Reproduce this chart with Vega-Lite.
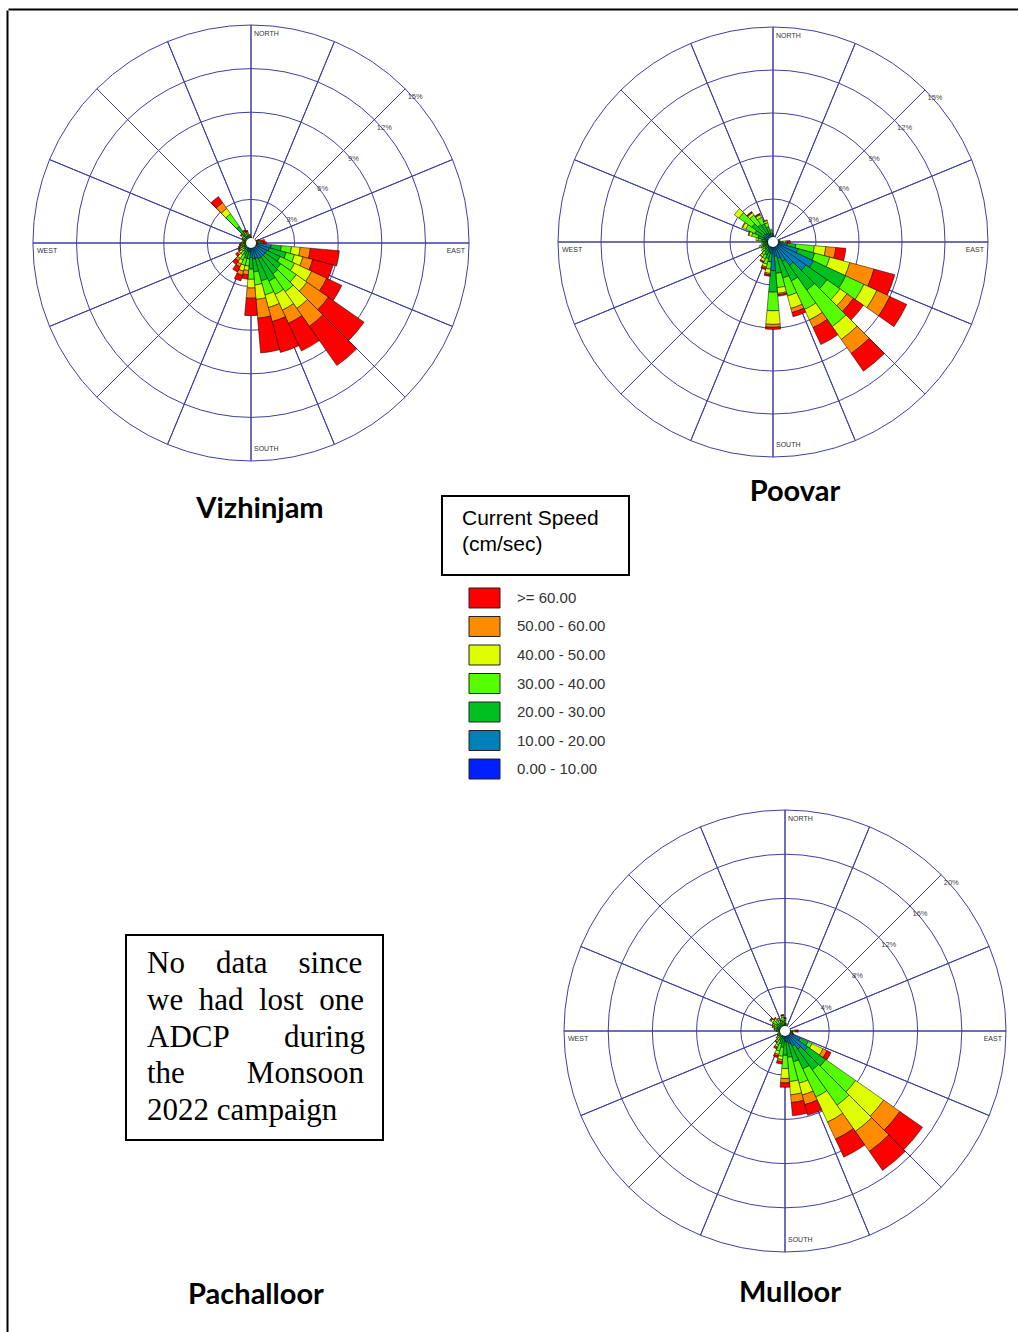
{
"$schema": "https://vega.github.io/schema/vega-lite/v6.json",
"padding": 0,
"background": "white",
"config": {"view": {"stroke": null}, "text": {"font": "Liberation Sans"}},
"datasets": {
"rose": [
{"site":"V","dir":0,"k0":0.1,"k1":0.15,"k2":0.1,"k3":0.05,"k4":0.05},
{"site":"V","dir":10,"k0":0.1,"k1":0.1,"k2":0.1,"k3":0.05},
{"site":"V","dir":20,"k0":0.1,"k1":0.1,"k2":0.05,"k3":0.05},
{"site":"V","dir":30,"k0":0.1,"k1":0.1,"k2":0.05},
{"site":"V","dir":40,"k0":0.1,"k1":0.1,"k2":0.05},
{"site":"V","dir":50,"k0":0.1,"k1":0.1,"k2":0.05,"k3":0.05},
{"site":"V","dir":60,"k0":0.1,"k1":0.1,"k2":0.1,"k3":0.05,"k4":0.05},
{"site":"V","dir":70,"k0":0.1,"k1":0.1,"k2":0.1,"k3":0.1,"k4":0.05,"k5":0.05,"k6":0.1},
{"site":"V","dir":80,"k0":0.1,"k1":0.15,"k2":0.1,"k3":0.1,"k4":0.1,"k5":0.1,"k6":0.3},
{"site":"V","dir":90,"k0":0.15,"k1":0.2,"k2":0.15,"k3":0.15,"k4":0.1,"k5":0.1,"k6":0.2},
{"site":"V","dir":100,"k0":0.3,"k1":1.1,"k2":0.7,"k3":0.7,"k4":0.6,"k5":0.7,"k6":2.0},
{"site":"V","dir":110,"k0":0.3,"k1":1.0,"k2":1.2,"k3":0.6,"k4":0.6,"k5":0.7,"k6":1.45},
{"site":"V","dir":120,"k0":0.3,"k1":0.9,"k2":1.0,"k3":1.1,"k4":1.3,"k5":1.15,"k6":1.15},
{"site":"V","dir":130,"k0":0.3,"k1":0.9,"k2":1.3,"k3":1.3,"k4":0.9,"k5":1.8,"k6":3.0},
{"site":"V","dir":140,"k0":0.3,"k1":0.9,"k2":1.4,"k3":1.5,"k4":1.4,"k5":1.5,"k6":3.3},
{"site":"V","dir":150,"k0":0.3,"k1":0.9,"k2":1.7,"k3":1.0,"k4":1.2,"k5":1.0,"k6":2.1},
{"site":"V","dir":160,"k0":0.3,"k1":0.8,"k2":1.6,"k3":1.0,"k4":0.9,"k5":1.0,"k6":2.2},
{"site":"V","dir":170,"k0":0.3,"k1":0.8,"k2":0.9,"k3":0.9,"k4":1.0,"k5":1.3,"k6":2.4},
{"site":"V","dir":180,"k0":0.2,"k1":0.8,"k2":0.8,"k3":0.7,"k4":0.6,"k5":0.7,"k6":1.2},
{"site":"V","dir":190,"k0":0.2,"k1":0.4,"k2":0.5,"k3":0.5,"k4":0.3,"k5":0.3,"k6":0.3},
{"site":"V","dir":200,"k0":0.2,"k1":0.4,"k2":0.5,"k3":0.5,"k4":0.4,"k5":0.3,"k6":0.4},
{"site":"V","dir":210,"k0":0.2,"k1":0.3,"k2":0.4,"k3":0.4,"k4":0.3,"k5":0.2,"k6":0.4},
{"site":"V","dir":220,"k0":0.2,"k1":0.2,"k2":0.3,"k3":0.3,"k4":0.3,"k5":0.2,"k6":0.3},
{"site":"V","dir":230,"k0":0.15,"k1":0.2,"k2":0.25,"k3":0.2,"k4":0.2,"k5":0.15,"k6":0.15},
{"site":"V","dir":240,"k0":0.15,"k1":0.15,"k2":0.2,"k3":0.15,"k4":0.15,"k5":0.1,"k6":0.1},
{"site":"V","dir":250,"k0":0.15,"k1":0.15,"k2":0.2,"k3":0.15,"k4":0.1,"k5":0.1,"k6":0.05},
{"site":"V","dir":260,"k0":0.15,"k1":0.15,"k2":0.15,"k3":0.15,"k4":0.1,"k5":0.05,"k6":0.05},
{"site":"V","dir":270,"k0":0.15,"k1":0.15,"k2":0.15,"k3":0.1,"k4":0.1,"k5":0.05},
{"site":"V","dir":280,"k0":0.15,"k1":0.15,"k2":0.1,"k3":0.1,"k4":0.1},
{"site":"V","dir":290,"k0":0.15,"k1":0.15,"k2":0.1,"k3":0.1,"k4":0.05,"k5":0.05},
{"site":"V","dir":300,"k0":0.15,"k1":0.15,"k2":0.15,"k3":0.1,"k4":0.1,"k5":0.05},
{"site":"V","dir":310,"k0":0.15,"k1":0.2,"k2":0.2,"k3":0.15,"k4":0.1,"k5":0.05,"k6":0.05},
{"site":"V","dir":320,"k0":0.2,"k1":0.5,"k2":0.7,"k3":1.05,"k4":0.45,"k5":0.5,"k6":0.5},
{"site":"V","dir":330,"k0":0.15,"k1":0.2,"k2":0.2,"k3":0.15,"k4":0.1,"k5":0.1,"k6":0.1},
{"site":"V","dir":340,"k0":0.15,"k1":0.2,"k2":0.2,"k3":0.15,"k4":0.1,"k5":0.05,"k6":0.05},
{"site":"V","dir":350,"k0":0.1,"k1":0.15,"k2":0.15,"k3":0.1,"k4":0.05,"k5":0.05},
{"site":"P","dir":0,"k0":0.1,"k1":0.2,"k2":0.15,"k3":0.1,"k4":0.05},
{"site":"P","dir":10,"k0":0.1,"k1":0.15,"k2":0.1,"k3":0.05,"k4":0.05},
{"site":"P","dir":20,"k0":0.1,"k1":0.1,"k2":0.05,"k3":0.05},
{"site":"P","dir":30,"k0":0.1,"k1":0.1,"k2":0.05},
{"site":"P","dir":40,"k0":0.1,"k1":0.1,"k2":0.05},
{"site":"P","dir":50,"k0":0.1,"k1":0.1,"k2":0.05},
{"site":"P","dir":60,"k0":0.1,"k1":0.1,"k2":0.05},
{"site":"P","dir":70,"k0":0.1,"k1":0.1,"k2":0.05,"k3":0.05},
{"site":"P","dir":80,"k0":0.1,"k1":0.15,"k2":0.1,"k3":0.05,"k4":0.05,"k5":0.05},
{"site":"P","dir":90,"k0":0.1,"k1":0.2,"k2":0.2,"k3":0.2,"k4":0.2,"k5":0.1,"k6":0.2},
{"site":"P","dir":100,"k0":0.2,"k1":0.8,"k2":0.6,"k3":1.3,"k4":0.8,"k5":0.7,"k6":0.7},
{"site":"P","dir":110,"k0":0.3,"k1":1.5,"k2":1.2,"k3":1.1,"k4":1.45,"k5":1.75,"k6":1.5},
{"site":"P","dir":120,"k0":0.4,"k1":2.7,"k2":2.5,"k3":1.4,"k4":1.0,"k5":1.0,"k6":1.3},
{"site":"P","dir":130,"k0":0.4,"k1":2.4,"k2":1.8,"k3":1.1,"k4":0.6,"k5":0.55,"k6":0.85},
{"site":"P","dir":140,"k0":0.4,"k1":1.6,"k2":2.1,"k3":3.1,"k4":1.1,"k5":1.2,"k6":1.5},
{"site":"P","dir":150,"k0":0.3,"k1":1.2,"k2":1.5,"k3":2.2,"k4":0.8,"k5":0.6,"k6":1.3},
{"site":"P","dir":160,"k0":0.3,"k1":0.9,"k2":1.4,"k3":1.3,"k4":0.9,"k5":0.3,"k6":0.3},
{"site":"P","dir":170,"k0":0.3,"k1":0.7,"k2":1.2,"k3":1.0,"k4":0.4,"k5":0.1,"k6":0.1},
{"site":"P","dir":180,"k0":0.3,"k1":1.7,"k2":1.5,"k3":1.3,"k4":0.95,"k5":0.2,"k6":0.15},
{"site":"P","dir":190,"k0":0.2,"k1":0.6,"k2":0.6,"k3":0.5,"k4":0.3,"k5":0.1,"k6":0.1},
{"site":"P","dir":200,"k0":0.2,"k1":0.5,"k2":0.5,"k3":0.4,"k4":0.2,"k5":0.1,"k6":0.1},
{"site":"P","dir":210,"k0":0.2,"k1":0.4,"k2":0.4,"k3":0.3,"k4":0.2,"k5":0.05,"k6":0.05},
{"site":"P","dir":220,"k0":0.15,"k1":0.35,"k2":0.35,"k3":0.25,"k4":0.15,"k5":0.05},
{"site":"P","dir":230,"k0":0.15,"k1":0.3,"k2":0.25,"k3":0.2,"k4":0.1},
{"site":"P","dir":240,"k0":0.15,"k1":0.25,"k2":0.25,"k3":0.15,"k4":0.1},
{"site":"P","dir":250,"k0":0.15,"k1":0.3,"k2":0.3,"k3":0.15,"k4":0.1},
{"site":"P","dir":260,"k0":0.15,"k1":0.25,"k2":0.2,"k3":0.1,"k4":0.1},
{"site":"P","dir":270,"k0":0.15,"k1":0.2,"k2":0.2,"k3":0.1,"k4":0.05},
{"site":"P","dir":280,"k0":0.15,"k1":0.3,"k2":0.35,"k3":0.25,"k4":0.15},
{"site":"P","dir":290,"k0":0.2,"k1":0.4,"k2":0.5,"k3":0.45,"k4":0.2,"k5":0.05},
{"site":"P","dir":300,"k0":0.2,"k1":0.5,"k2":0.7,"k3":0.7,"k4":0.25,"k5":0.05},
{"site":"P","dir":310,"k0":0.2,"k1":0.6,"k2":1.0,"k3":1.1,"k4":0.4},
{"site":"P","dir":320,"k0":0.2,"k1":0.5,"k2":0.8,"k3":0.8,"k4":0.2,"k5":0.05,"k6":0.05},
{"site":"P","dir":330,"k0":0.2,"k1":0.5,"k2":0.7,"k3":0.5,"k4":0.2,"k5":0.05,"k6":0.05},
{"site":"P","dir":340,"k0":0.2,"k1":0.4,"k2":0.5,"k3":0.3,"k4":0.15,"k5":0.05},
{"site":"P","dir":350,"k0":0.15,"k1":0.25,"k2":0.25,"k3":0.15,"k4":0.1},
{"site":"M","dir":0,"k0":0.15,"k1":0.3,"k2":0.3,"k3":0.2,"k4":0.15,"k5":0.05,"k6":0.05},
{"site":"M","dir":10,"k0":0.1,"k1":0.2,"k2":0.2,"k3":0.1,"k4":0.1},
{"site":"M","dir":20,"k0":0.1,"k1":0.1,"k2":0.1,"k3":0.05,"k4":0.05},
{"site":"M","dir":30,"k0":0.1,"k1":0.1,"k2":0.05,"k3":0.05},
{"site":"M","dir":40,"k0":0.1,"k1":0.1,"k2":0.05},
{"site":"M","dir":50,"k0":0.1,"k1":0.1,"k2":0.05},
{"site":"M","dir":60,"k0":0.1,"k1":0.1,"k2":0.05},
{"site":"M","dir":70,"k0":0.1,"k1":0.1,"k2":0.1,"k3":0.05},
{"site":"M","dir":80,"k0":0.1,"k1":0.1,"k2":0.1,"k3":0.1,"k4":0.05,"k5":0.05},
{"site":"M","dir":90,"k0":0.1,"k1":0.2,"k2":0.2,"k3":0.2,"k4":0.2,"k5":0.1,"k6":0.2},
{"site":"M","dir":100,"k0":0.1,"k1":0.15,"k2":0.15,"k3":0.1,"k4":0.1,"k5":0.05,"k6":0.05},
{"site":"M","dir":110,"k0":0.1,"k1":0.2,"k2":0.2,"k3":0.1,"k4":0.1,"k5":0.05,"k6":0.05},
{"site":"M","dir":120,"k0":0.3,"k1":1.2,"k2":0.8,"k3":0.4,"k4":1.1,"k5":0.4,"k6":0.4},
{"site":"M","dir":130,"k0":0.3,"k1":2.2,"k2":2.0,"k3":3.3,"k4":3.1,"k5":1.8,"k6":2.5},
{"site":"M","dir":140,"k0":0.3,"k1":1.7,"k2":2.3,"k3":3.9,"k4":2.9,"k5":2.2,"k6":2.1},
{"site":"M","dir":150,"k0":0.3,"k1":1.2,"k2":2.3,"k3":2.8,"k4":2.5,"k5":1.7,"k6":1.8},
{"site":"M","dir":160,"k0":0.3,"k1":0.9,"k2":1.7,"k3":2.0,"k4":1.1,"k5":0.9,"k6":1.0},
{"site":"M","dir":170,"k0":0.3,"k1":0.7,"k2":1.4,"k3":2.2,"k4":1.2,"k5":0.7,"k6":1.2},
{"site":"M","dir":180,"k0":0.2,"k1":0.7,"k2":1.3,"k3":1.2,"k4":0.9,"k5":0.4,"k6":0.4},
{"site":"M","dir":190,"k0":0.2,"k1":0.5,"k2":0.8,"k3":0.8,"k4":0.3,"k5":0.2,"k6":0.2},
{"site":"M","dir":200,"k0":0.2,"k1":0.4,"k2":0.6,"k3":0.7,"k4":0.3,"k5":0.15,"k6":0.15},
{"site":"M","dir":210,"k0":0.15,"k1":0.35,"k2":0.45,"k3":0.45,"k4":0.2,"k5":0.1,"k6":0.1},
{"site":"M","dir":220,"k0":0.15,"k1":0.3,"k2":0.3,"k3":0.3,"k4":0.15,"k5":0.05,"k6":0.05},
{"site":"M","dir":230,"k0":0.15,"k1":0.25,"k2":0.25,"k3":0.2,"k4":0.1,"k5":0.05},
{"site":"M","dir":240,"k0":0.1,"k1":0.2,"k2":0.2,"k3":0.15,"k4":0.1,"k5":0.05},
{"site":"M","dir":250,"k0":0.1,"k1":0.2,"k2":0.2,"k3":0.1,"k4":0.1},
{"site":"M","dir":260,"k0":0.1,"k1":0.15,"k2":0.15,"k3":0.1,"k4":0.1},
{"site":"M","dir":270,"k0":0.1,"k1":0.2,"k2":0.2,"k3":0.15,"k4":0.1,"k5":0.05},
{"site":"M","dir":280,"k0":0.1,"k1":0.25,"k2":0.25,"k3":0.2,"k4":0.15,"k5":0.05},
{"site":"M","dir":290,"k0":0.15,"k1":0.3,"k2":0.3,"k3":0.25,"k4":0.15,"k5":0.05},
{"site":"M","dir":300,"k0":0.15,"k1":0.3,"k2":0.35,"k3":0.3,"k4":0.15,"k5":0.05},
{"site":"M","dir":310,"k0":0.15,"k1":0.35,"k2":0.45,"k3":0.4,"k4":0.2,"k5":0.1,"k6":0.05},
{"site":"M","dir":320,"k0":0.15,"k1":0.3,"k2":0.4,"k3":0.35,"k4":0.2,"k5":0.05,"k6":0.05},
{"site":"M","dir":330,"k0":0.15,"k1":0.3,"k2":0.35,"k3":0.3,"k4":0.15,"k5":0.05},
{"site":"M","dir":340,"k0":0.1,"k1":0.25,"k2":0.25,"k3":0.2,"k4":0.15,"k5":0.05},
{"site":"M","dir":350,"k0":0.15,"k1":0.35,"k2":0.4,"k3":0.35,"k4":0.15,"k5":0.05,"k6":0.05}
],
"classes": [
{"key":"k6","label":">= 60.00"},
{"key":"k5","label":"50.00 - 60.00"},
{"key":"k4","label":"40.00 - 50.00"},
{"key":"k3","label":"30.00 - 40.00"},
{"key":"k2","label":"20.00 - 30.00"},
{"key":"k1","label":"10.00 - 20.00"},
{"key":"k0","label":"0.00 - 10.00"}
],
"spokes": [{"a":0},{"a":22.5},{"a":45},{"a":67.5},{"a":90},{"a":112.5},{"a":135},{"a":157.5},{"a":180},{"a":202.5},{"a":225},{"a":247.5},{"a":270},{"a":292.5},{"a":315},{"a":337.5}]
},
"columns": 6,
"align": "none",
"bounds": "flush",
"spacing": 0,
"resolve": {"scale": {"radius": "independent", "theta": "independent"}},
"concat": [
{"width": 8, "height": 8, "data": {"values": [{}]}, "mark": {"type": "text", "text": ""}},
{"width": 118, "height": 8, "data": {"values": [{}]}, "mark": {"type": "text", "text": ""}},
{"width": 1, "height": 8, "data": {"values": [{}]}, "mark": {"type": "text", "text": ""}},
{"width": 59, "height": 8, "data": {"values": [{}]}, "mark": {"type": "text", "text": ""}},
{"width": 1, "height": 8, "data": {"values": [{}]}, "mark": {"type": "text", "text": ""}},
{"width": 1, "height": 8, "data": {"values": [{}]}, "mark": {"type": "text", "text": ""}},

{"width": 1, "height": 1, "data": {"values": [{}]}, "mark": {"type": "text", "text": ""}},
{"width": 1, "height": 1,
 "data": {"values": [{"z": 0}]},
 "mark": {"type": "text", "text": ""},
 "encoding": {
  "x": {"field": "z", "type": "quantitative", "scale": {"domain": [0, 1], "range": [0, 1010]}, "axis": {"orient": "top", "offset": 1, "domainColor": "#000", "domainWidth": 2, "ticks": false, "labels": false, "grid": false, "title": null}},
  "y": {"field": "z", "type": "quantitative", "scale": {"domain": [0, 1], "range": [0, 1323]}, "axis": {"orient": "left", "offset": 1, "domainColor": "#000", "domainWidth": 2, "ticks": false, "labels": false, "grid": false, "title": null}}
 }},
{"width": 250, "height": 466,
 "title": {"text": "Vizhinjam", "orient": "bottom", "frame": "group", "anchor": "middle", "offset": 33, "dx": 9, "baseline": "middle", "font": "Lato", "fontSize": 29, "fontWeight": "bold", "color": "#000"},
 "layer": [
  {"data": {"values": [{"r":3},{"r":6},{"r":9},{"r":12},{"r":15}]},
   "mark": {"type": "arc", "filled": false, "theta": 0, "theta2": 6.2832, "stroke": "#3f3fa0", "strokeWidth": 1},
   "encoding": {"radius": {"field": "r", "type": "quantitative", "stack": null, "scale": {"type": "linear", "domain": [0, 15], "range": [0, 218], "zero": true}}}},
  {"data": {"name": "spokes"},
   "mark": {"type": "arc", "filled": false, "stroke": "#3f3fa0", "strokeWidth": 1},
   "encoding": {"theta": {"field": "a", "type": "quantitative", "stack": null, "scale": {"domain": [0, 360], "range": [0, 6.283185307179586]}}, "theta2": {"field": "a"}, "radius": {"datum": 15, "type": "quantitative", "scale": {"type": "linear", "domain": [0, 15], "range": [0, 218], "zero": true}}}},
  {"data": {"name": "rose"},
   "transform": [
    {"filter": "datum.site === 'V'"},
    {"fold": ["k0","k1","k2","k3","k4","k5","k6"], "as": ["key","pct"]},
    {"filter": "datum.pct > 0"},
    {"stack": "pct", "groupby": ["dir"], "sort": [{"field": "key", "order": "ascending"}], "as": ["r0","r1"]},
    {"bin": {"step": 10, "extent": [-5, 355], "nice": false}, "field": "dir", "as": ["a0","a1"]}
   ],
   "mark": {"type": "arc", "stroke": "#000", "strokeWidth": 0.5},
   "encoding": {
    "theta": {"field": "a0", "type": "quantitative", "stack": null, "scale": {"domain": [0, 360], "range": [0, 6.283185307179586]}},
    "theta2": {"field": "a1"},
    "radius": {"field": "r1", "type": "quantitative", "stack": null, "scale": {"type": "linear", "domain": [0, 15], "range": [0, 218], "zero": true}},
    "radius2": {"field": "r0"},
    "color": {"field": "key", "type": "nominal", "legend": null, "scale": {"domain": ["k0","k1","k2","k3","k4","k5","k6"], "range": ["#0020FF","#0080B8","#00C020","#55FF00","#DDFF00","#FF8C00","#FF0000"]}}
   }},
  {"data": {"values": [{}]},
   "mark": {"type": "arc", "theta": 0, "theta2": 6.2832, "radius": 5, "fill": "#fff", "stroke": null}},
  {"data": {"values": [{"r":3,"t":"3%"},{"r":6,"t":"6%"},{"r":9,"t":"9%"},{"r":12,"t":"12%"},{"r":15,"t":"15%"}]},
   "mark": {"type": "text", "dx": 10, "dy": 8, "fontSize": 7.5, "fill": "#444"},
   "encoding": {"theta": {"datum": 45, "type": "quantitative", "scale": {"domain": [0, 360], "range": [0, 6.283185307179586]}}, "radius": {"field": "r", "type": "quantitative", "scale": {"type": "linear", "domain": [0, 15], "range": [0, 218], "zero": true}}, "text": {"field": "t"}}},
  {"data": {"values": [{"a": 0, "t": "NORTH"}]},
   "mark": {"type": "text", "align": "left", "baseline": "top", "dx": 3, "dy": 5, "fontSize": 7, "fill": "#333"},
   "encoding": {"theta": {"field": "a", "type": "quantitative", "scale": {"domain": [0, 360], "range": [0, 6.283185307179586]}}, "radius": {"datum": 15, "type": "quantitative", "scale": {"type": "linear", "domain": [0, 15], "range": [0, 218], "zero": true}}, "text": {"field": "t"}}},
  {"data": {"values": [{"a": 180, "t": "SOUTH"}]},
   "mark": {"type": "text", "align": "left", "baseline": "bottom", "dx": 3, "dy": -9, "fontSize": 7, "fill": "#333"},
   "encoding": {"theta": {"field": "a", "type": "quantitative", "scale": {"domain": [0, 360], "range": [0, 6.283185307179586]}}, "radius": {"datum": 15, "type": "quantitative", "scale": {"type": "linear", "domain": [0, 15], "range": [0, 218], "zero": true}}, "text": {"field": "t"}}},
  {"data": {"values": [{"a": 270, "t": "WEST"}]},
   "mark": {"type": "text", "align": "left", "baseline": "top", "dx": 4, "dy": 4, "fontSize": 7, "fill": "#333"},
   "encoding": {"theta": {"field": "a", "type": "quantitative", "scale": {"domain": [0, 360], "range": [0, 6.283185307179586]}}, "radius": {"datum": 15, "type": "quantitative", "scale": {"type": "linear", "domain": [0, 15], "range": [0, 218], "zero": true}}, "text": {"field": "t"}}},
  {"data": {"values": [{"a": 90, "t": "EAST"}]},
   "mark": {"type": "text", "align": "right", "baseline": "top", "dx": -4, "dy": 4, "fontSize": 7, "fill": "#333"},
   "encoding": {"theta": {"field": "a", "type": "quantitative", "scale": {"domain": [0, 360], "range": [0, 6.283185307179586]}}, "radius": {"datum": 15, "type": "quantitative", "scale": {"type": "linear", "domain": [0, 15], "range": [0, 218], "zero": true}}, "text": {"field": "t"}}}
 ]},
{"width": 1, "height": 486, "data": {"values": [{}]}, "mark": {"type": "text", "text": ""}},
{"width": 1, "height": 1, "data": {"values": [{}]}, "mark": {"type": "text", "text": ""}},
{"width": 288, "height": 464,
 "title": {"text": "Poovar", "orient": "bottom", "frame": "group", "anchor": "middle", "offset": 18, "dx": 22, "baseline": "middle", "font": "Lato", "fontSize": 29, "fontWeight": "bold", "color": "#000"},
 "layer": [
  {"data": {"values": [{"r":3},{"r":6},{"r":9},{"r":12},{"r":15}]},
   "mark": {"type": "arc", "filled": false, "theta": 0, "theta2": 6.2832, "stroke": "#3f3fa0", "strokeWidth": 1},
   "encoding": {"radius": {"field": "r", "type": "quantitative", "stack": null, "scale": {"type": "linear", "domain": [0, 15], "range": [0, 215], "zero": true}}}},
  {"data": {"name": "spokes"},
   "mark": {"type": "arc", "filled": false, "stroke": "#3f3fa0", "strokeWidth": 1},
   "encoding": {"theta": {"field": "a", "type": "quantitative", "stack": null, "scale": {"domain": [0, 360], "range": [0, 6.283185307179586]}}, "theta2": {"field": "a"}, "radius": {"datum": 15, "type": "quantitative", "scale": {"type": "linear", "domain": [0, 15], "range": [0, 215], "zero": true}}}},
  {"data": {"name": "rose"},
   "transform": [
    {"filter": "datum.site === 'P'"},
    {"fold": ["k0","k1","k2","k3","k4","k5","k6"], "as": ["key","pct"]},
    {"filter": "datum.pct > 0"},
    {"stack": "pct", "groupby": ["dir"], "sort": [{"field": "key", "order": "ascending"}], "as": ["r0","r1"]},
    {"bin": {"step": 10, "extent": [-5, 355], "nice": false}, "field": "dir", "as": ["a0","a1"]}
   ],
   "mark": {"type": "arc", "stroke": "#000", "strokeWidth": 0.5},
   "encoding": {
    "theta": {"field": "a0", "type": "quantitative", "stack": null, "scale": {"domain": [0, 360], "range": [0, 6.283185307179586]}},
    "theta2": {"field": "a1"},
    "radius": {"field": "r1", "type": "quantitative", "stack": null, "scale": {"type": "linear", "domain": [0, 15], "range": [0, 215], "zero": true}},
    "radius2": {"field": "r0"},
    "color": {"field": "key", "type": "nominal", "legend": null, "scale": {"domain": ["k0","k1","k2","k3","k4","k5","k6"], "range": ["#0020FF","#0080B8","#00C020","#55FF00","#DDFF00","#FF8C00","#FF0000"]}}
   }},
  {"data": {"values": [{}]},
   "mark": {"type": "arc", "theta": 0, "theta2": 6.2832, "radius": 5, "fill": "#fff", "stroke": null}},
  {"data": {"values": [{"r":3,"t":"3%"},{"r":6,"t":"6%"},{"r":9,"t":"9%"},{"r":12,"t":"12%"},{"r":15,"t":"15%"}]},
   "mark": {"type": "text", "dx": 10, "dy": 8, "fontSize": 7.5, "fill": "#444"},
   "encoding": {"theta": {"datum": 45, "type": "quantitative", "scale": {"domain": [0, 360], "range": [0, 6.283185307179586]}}, "radius": {"field": "r", "type": "quantitative", "scale": {"type": "linear", "domain": [0, 15], "range": [0, 215], "zero": true}}, "text": {"field": "t"}}},
  {"data": {"values": [{"a": 0, "t": "NORTH"}]},
   "mark": {"type": "text", "align": "left", "baseline": "top", "dx": 3, "dy": 5, "fontSize": 7, "fill": "#333"},
   "encoding": {"theta": {"field": "a", "type": "quantitative", "scale": {"domain": [0, 360], "range": [0, 6.283185307179586]}}, "radius": {"datum": 15, "type": "quantitative", "scale": {"type": "linear", "domain": [0, 15], "range": [0, 215], "zero": true}}, "text": {"field": "t"}}},
  {"data": {"values": [{"a": 180, "t": "SOUTH"}]},
   "mark": {"type": "text", "align": "left", "baseline": "bottom", "dx": 3, "dy": -9, "fontSize": 7, "fill": "#333"},
   "encoding": {"theta": {"field": "a", "type": "quantitative", "scale": {"domain": [0, 360], "range": [0, 6.283185307179586]}}, "radius": {"datum": 15, "type": "quantitative", "scale": {"type": "linear", "domain": [0, 15], "range": [0, 215], "zero": true}}, "text": {"field": "t"}}},
  {"data": {"values": [{"a": 270, "t": "WEST"}]},
   "mark": {"type": "text", "align": "left", "baseline": "top", "dx": 4, "dy": 4, "fontSize": 7, "fill": "#333"},
   "encoding": {"theta": {"field": "a", "type": "quantitative", "scale": {"domain": [0, 360], "range": [0, 6.283185307179586]}}, "radius": {"datum": 15, "type": "quantitative", "scale": {"type": "linear", "domain": [0, 15], "range": [0, 215], "zero": true}}, "text": {"field": "t"}}},
  {"data": {"values": [{"a": 90, "t": "EAST"}]},
   "mark": {"type": "text", "align": "right", "baseline": "top", "dx": -4, "dy": 4, "fontSize": 7, "fill": "#333"},
   "encoding": {"theta": {"field": "a", "type": "quantitative", "scale": {"domain": [0, 360], "range": [0, 6.283185307179586]}}, "radius": {"datum": 15, "type": "quantitative", "scale": {"type": "linear", "domain": [0, 15], "range": [0, 215], "zero": true}}, "text": {"field": "t"}}}
 ]},

{"width": 1, "height": 1, "data": {"values": [{}]}, "mark": {"type": "text", "text": ""}},
{"width": 1, "height": 1, "data": {"values": [{}]}, "mark": {"type": "text", "text": ""}},
{"width": 1, "height": 1, "data": {"values": [{}]}, "mark": {"type": "text", "text": ""}},
{"width": 1, "height": 92, "data": {"values": [{}]}, "mark": {"type": "text", "text": ""}},
{"width": 187, "height": 79, "view": {"stroke": "#000", "strokeWidth": 2},
 "data": {"values": [{}]},
 "mark": {"type": "text", "text": ["Current Speed", "(cm/sec)"], "align": "left", "baseline": "middle", "dx": -73.5, "dy": -16.5, "fontSize": 21, "lineHeight": 26, "font": "Liberation Sans", "fill": "#000"}},
{"width": 1, "height": 1, "data": {"values": [{}]}, "mark": {"type": "text", "text": ""}},

{"width": 1, "height": 1, "data": {"values": [{}]}, "mark": {"type": "text", "text": ""}},
{"width": 1, "height": 1, "data": {"values": [{}]}, "mark": {"type": "text", "text": ""}},
{"width": 1, "height": 1, "data": {"values": [{}]}, "mark": {"type": "text", "text": ""}},
{"width": 1, "height": 347, "data": {"values": [{}]}, "mark": {"type": "text", "text": ""}},
{"width": 85, "height": 191,
 "data": {"name": "classes"},
 "layer": [
  {"mark": {"type": "point", "shape": "M-1,-0.645L1,-0.645L1,0.645L-1,0.645Z", "size": 961, "filled": true, "opacity": 1, "stroke": "#222", "strokeWidth": 1},
   "encoding": {
    "y": {"field": "key", "type": "nominal", "axis": null, "scale": {"type": "band", "domain": ["k6","k5","k4","k3","k2","k1","k0"], "paddingInner": 0.3, "paddingOuter": 0}},
    "color": {"field": "key", "type": "nominal", "legend": null, "scale": {"domain": ["k0","k1","k2","k3","k4","k5","k6"], "range": ["#0020FF","#0080B8","#00C020","#55FF00","#DDFF00","#FF8C00","#FF0000"]}}
   }},
  {"mark": {"type": "text", "align": "left", "baseline": "middle", "dx": 32.5, "fontSize": 15, "font": "Liberation Sans", "fill": "#333"},
   "encoding": {
    "y": {"field": "key", "type": "nominal", "axis": null, "scale": {"type": "band", "domain": ["k6","k5","k4","k3","k2","k1","k0"], "paddingInner": 0.3, "paddingOuter": 0}},
    "text": {"field": "label"}
   }}
 ]},
{"width": 1, "height": 1, "data": {"values": [{}]}, "mark": {"type": "text", "text": ""}},

{"width": 1, "height": 1, "data": {"values": [{}]}, "mark": {"type": "text", "text": ""}},
{"width": 1, "height": 1, "data": {"values": [{}]}, "mark": {"type": "text", "text": ""}},
{"width": 257, "height": 205, "view": {"stroke": "#000", "strokeWidth": 2},
 "title": {"text": "Pachalloor", "orient": "bottom", "frame": "group", "anchor": "middle", "offset": 155, "dx": 1.5, "baseline": "middle", "font": "Lato", "fontSize": 29, "fontWeight": "bold", "color": "#000"},
 "data": {"values": [
  {"n": 1, "t": "No\u00a0\u00a0\u00a0\u00a0data\u00a0\u00a0\u00a0\u00a0since"},
  {"n": 2, "t": "we\u00a0\u00a0had\u00a0\u00a0lost\u00a0\u00a0one"},
  {"n": 3, "t": "ADCP\u00a0\u00a0\u00a0\u00a0\u00a0\u00a0\u00a0during"},
  {"n": 4, "t": "the\u00a0\u00a0\u00a0\u00a0\u00a0\u00a0\u00a0\u00a0Monsoon"},
  {"n": 5, "t": "2022 campaign"}
 ]},
 "mark": {"type": "text", "align": "left", "baseline": "middle", "dx": -107.5, "fontSize": 31, "font": "Liberation Serif", "fill": "#000"},
 "encoding": {
  "y": {"field": "n", "type": "ordinal", "axis": null, "scale": {"type": "point", "padding": 0.8}},
  "text": {"field": "t"}
 }},
{"width": 1, "height": 1, "data": {"values": [{}]}, "mark": {"type": "text", "text": ""}},
{"width": 1, "height": 1, "data": {"values": [{}]}, "mark": {"type": "text", "text": ""}},
{"width": 312, "height": 192,
 "title": {"text": "Mulloor", "orient": "bottom", "frame": "group", "anchor": "middle", "offset": 39, "dx": 5, "baseline": "middle", "font": "Lato", "fontSize": 29, "fontWeight": "bold", "color": "#000"},
 "layer": [
  {"data": {"values": [{"r":4},{"r":8},{"r":12},{"r":16},{"r":20}]},
   "mark": {"type": "arc", "filled": false, "theta": 0, "theta2": 6.2832, "stroke": "#3f3fa0", "strokeWidth": 1},
   "encoding": {"radius": {"field": "r", "type": "quantitative", "stack": null, "scale": {"type": "linear", "domain": [0, 20], "range": [0, 221], "zero": true}}}},
  {"data": {"name": "spokes"},
   "mark": {"type": "arc", "filled": false, "stroke": "#3f3fa0", "strokeWidth": 1},
   "encoding": {"theta": {"field": "a", "type": "quantitative", "stack": null, "scale": {"domain": [0, 360], "range": [0, 6.283185307179586]}}, "theta2": {"field": "a"}, "radius": {"datum": 20, "type": "quantitative", "scale": {"type": "linear", "domain": [0, 20], "range": [0, 221], "zero": true}}}},
  {"data": {"name": "rose"},
   "transform": [
    {"filter": "datum.site === 'M'"},
    {"fold": ["k0","k1","k2","k3","k4","k5","k6"], "as": ["key","pct"]},
    {"filter": "datum.pct > 0"},
    {"stack": "pct", "groupby": ["dir"], "sort": [{"field": "key", "order": "ascending"}], "as": ["r0","r1"]},
    {"bin": {"step": 10, "extent": [-5, 355], "nice": false}, "field": "dir", "as": ["a0","a1"]}
   ],
   "mark": {"type": "arc", "stroke": "#000", "strokeWidth": 0.5},
   "encoding": {
    "theta": {"field": "a0", "type": "quantitative", "stack": null, "scale": {"domain": [0, 360], "range": [0, 6.283185307179586]}},
    "theta2": {"field": "a1"},
    "radius": {"field": "r1", "type": "quantitative", "stack": null, "scale": {"type": "linear", "domain": [0, 20], "range": [0, 221], "zero": true}},
    "radius2": {"field": "r0"},
    "color": {"field": "key", "type": "nominal", "legend": null, "scale": {"domain": ["k0","k1","k2","k3","k4","k5","k6"], "range": ["#0020FF","#0080B8","#00C020","#55FF00","#DDFF00","#FF8C00","#FF0000"]}}
   }},
  {"data": {"values": [{}]},
   "mark": {"type": "arc", "theta": 0, "theta2": 6.2832, "radius": 5, "fill": "#fff", "stroke": null}},
  {"data": {"values": [{"r":4,"t":"4%"},{"r":8,"t":"8%"},{"r":12,"t":"12%"},{"r":16,"t":"16%"},{"r":20,"t":"20%"}]},
   "mark": {"type": "text", "dx": 10, "dy": 8, "fontSize": 7.5, "fill": "#444"},
   "encoding": {"theta": {"datum": 45, "type": "quantitative", "scale": {"domain": [0, 360], "range": [0, 6.283185307179586]}}, "radius": {"field": "r", "type": "quantitative", "scale": {"type": "linear", "domain": [0, 20], "range": [0, 221], "zero": true}}, "text": {"field": "t"}}},
  {"data": {"values": [{"a": 0, "t": "NORTH"}]},
   "mark": {"type": "text", "align": "left", "baseline": "top", "dx": 3, "dy": 5, "fontSize": 7, "fill": "#333"},
   "encoding": {"theta": {"field": "a", "type": "quantitative", "scale": {"domain": [0, 360], "range": [0, 6.283185307179586]}}, "radius": {"datum": 20, "type": "quantitative", "scale": {"type": "linear", "domain": [0, 20], "range": [0, 221], "zero": true}}, "text": {"field": "t"}}},
  {"data": {"values": [{"a": 180, "t": "SOUTH"}]},
   "mark": {"type": "text", "align": "left", "baseline": "bottom", "dx": 3, "dy": -9, "fontSize": 7, "fill": "#333"},
   "encoding": {"theta": {"field": "a", "type": "quantitative", "scale": {"domain": [0, 360], "range": [0, 6.283185307179586]}}, "radius": {"datum": 20, "type": "quantitative", "scale": {"type": "linear", "domain": [0, 20], "range": [0, 221], "zero": true}}, "text": {"field": "t"}}},
  {"data": {"values": [{"a": 270, "t": "WEST"}]},
   "mark": {"type": "text", "align": "left", "baseline": "top", "dx": 4, "dy": 4, "fontSize": 7, "fill": "#333"},
   "encoding": {"theta": {"field": "a", "type": "quantitative", "scale": {"domain": [0, 360], "range": [0, 6.283185307179586]}}, "radius": {"datum": 20, "type": "quantitative", "scale": {"type": "linear", "domain": [0, 20], "range": [0, 221], "zero": true}}, "text": {"field": "t"}}},
  {"data": {"values": [{"a": 90, "t": "EAST"}]},
   "mark": {"type": "text", "align": "right", "baseline": "top", "dx": -4, "dy": 4, "fontSize": 7, "fill": "#333"},
   "encoding": {"theta": {"field": "a", "type": "quantitative", "scale": {"domain": [0, 360], "range": [0, 6.283185307179586]}}, "radius": {"datum": 20, "type": "quantitative", "scale": {"type": "linear", "domain": [0, 20], "range": [0, 221], "zero": true}}, "text": {"field": "t"}}}
 ]}
]
}
